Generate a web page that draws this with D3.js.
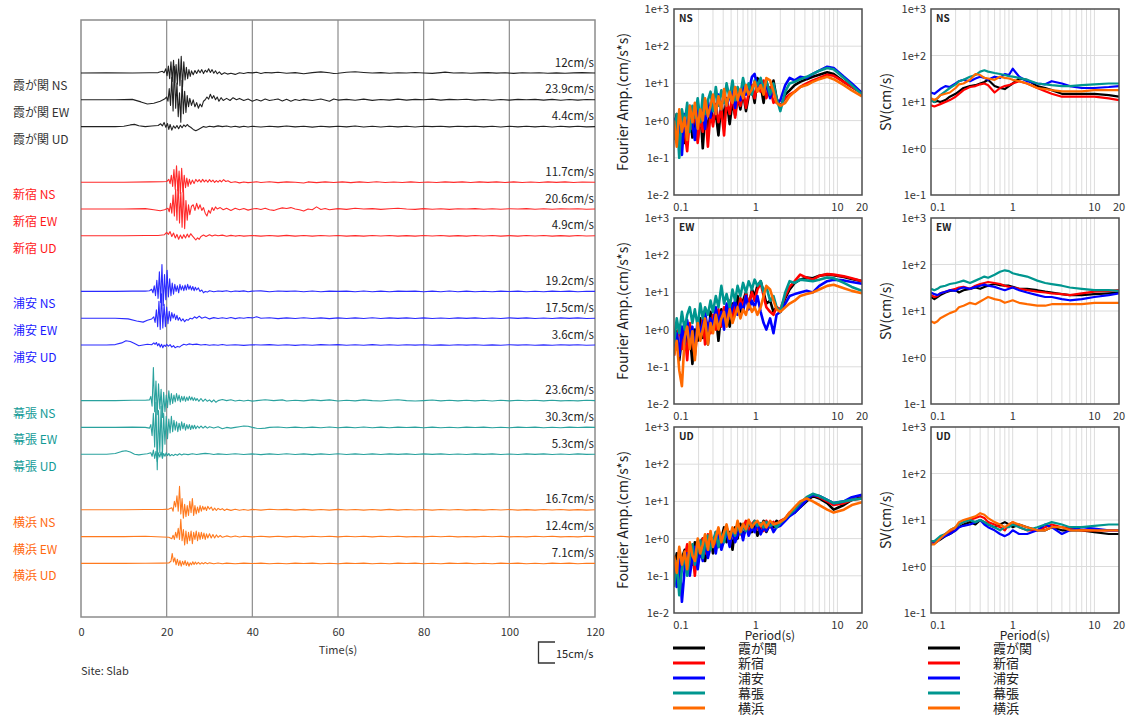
<!DOCTYPE html>
<html>
<head>
<meta charset="utf-8">
<script src="https://cdn.jsdelivr.net/npm/d3@7"></script>
<style>
  body { margin: 0; background: #fff; }
  svg { display: block; font-family: "Noto Sans CJK JP", "Liberation Sans", sans-serif; }
</style>
</head>
<body>
<div id="chart"></div>
<script>
// ---- data ----
const stations = ["霞が関", "新宿", "浦安", "幕張", "横浜"];
const components = ["NS", "EW", "UD"];
const peakVel = [12, 23.9, 4.4, 11.7, 20.6, 4.9, 19.2, 17.5, 3.6, 23.6, 30.3, 5.3, 16.7, 12.4, 7.1];
const timeTicks = [0, 20, 40, 60, 80, 100, 120];

// velocity waveforms [time(s), velocity(cm/s)]
const kasumiNS = [[0,0],[6,0.1],[12,0],[16,0.2],[18,0.3],[19,1.2],[19.4,0.2],[19.8,3],[20.1,-2],[20.4,5],[20.7,-4],[21,8],[21.3,-6],[21.6,9],[21.9,-7],[22.2,6],[22.5,-8],[22.8,10],[23.1,-9],[23.4,12],[23.7,-10],[24,8],[24.3,-5],[24.6,4],[24.9,-4],[25.2,2.5],[25.5,-2.5],[25.8,1.5],[26.2,-1.2],[26.6,1.8],[27,-0.3],[27.4,2.2],[27.8,0.2],[28.2,2.4],[28.6,-0.4],[29,2],[29.4,0.6],[29.8,3],[30.2,0.4],[30.6,2.4],[31,-0.2],[31.4,1.6],[31.8,-0.6],[32.3,0.8],[32.8,-1],[33.5,0.2],[34.2,-0.8],[35,-0.2],[36,-1],[37,0.2],[38,-0.4],[39,0.3],[40,0.1],[41,0.5],[42,-0.3],[43,0.4],[44.5,0.1],[46,0.5],[48,-0.2],[50,0.3],[52,-0.5],[54,0.3],[56,0.8],[58,0.2],[59,-0.4],[60,-0.2],[62,0.5],[64,0.9],[66,0.4],[68,0],[70,0.3],[72,-0.2],[74,0.2],[76,0],[78,0.4],[80,0],[82,-0.3],[84,0.3],[85,0.6],[87,0],[89,0.2],[91,-0.2],[93,0.1],[95,0.3],[97,-0.1],[99,0.2],[101,-0.3],[103,0.2],[105,0],[107,0.2],[109,-0.2],[111,0.1],[113,-0.2],[115,0.1],[117,0.3],[120,0]];
const kasumiEW = [[0,0],[8,0],[12,0.3],[14,-1.5],[15.5,-3],[17,-2.5],[18.5,-1],[19.5,0.5],[20,2],[20.3,-1],[20.6,8],[20.9,-4],[21.2,16],[21.5,-8],[21.8,23.9],[22.1,-6],[22.4,12],[22.7,-12],[23,5],[23.3,-16],[23.6,14],[23.9,-10],[24.2,6],[24.5,-9],[24.8,3],[25.1,-5],[25.4,1],[25.8,-4],[26.2,0],[26.6,-5],[27,-2],[27.4,-6],[27.8,-3],[28.2,-5],[28.6,-1],[29,0],[29.4,2],[29.8,0.5],[30.2,4],[30.6,1],[31,3],[31.4,0],[31.8,2],[32.2,-1],[32.7,1.5],[33.2,-0.5],[34,1],[34.8,-0.5],[35.5,1.5],[36.3,0],[37,1],[38,-0.5],[39,0.5],[40,-1],[41,0.2],[42,-0.8],[43,0.5],[44,-0.5],[45,0],[46,0.6],[47,-0.8],[48,0.4],[49,-1],[50,0.2],[51,-0.5],[52,0.3],[54,-0.5],[56,0.6],[58,-1],[59,0.6],[60,-0.2],[62,0.3],[64,-0.3],[66,0.5],[68,-0.4],[70,0.2],[72,-0.2],[74,0.5],[76,-0.2],[78,0.3],[80,0],[82,0.5],[84,-0.2],[86,0.3],[88,0],[90,0.4],[92,-0.2],[94,0.2],[96,-0.3],[98,0.2],[100,-0.2],[102,0.3],[104,0],[106,0.3],[108,-0.2],[110,0.3],[112,-0.3],[114,0.2],[116,-0.2],[118,0.2],[120,0]];
const kasumiUD = [[0,0],[8,0],[10,0.3],[11.5,1.2],[12.5,1.6],[13.5,0.6],[15,0],[16.5,0.4],[18,0.8],[18.6,2],[19,0.5],[19.4,3],[19.8,-0.5],[20.2,2.2],[20.5,-2],[20.8,1.5],[21.2,-2.5],[21.6,0.5],[22,-1.2],[22.4,0.8],[22.8,-1.5],[23.2,1],[23.6,-0.8],[24,1.2],[24.4,0],[24.8,1.5],[25.2,0.2],[25.6,-0.5],[26.2,-2],[26.8,-3],[27.4,-2],[28,-1],[28.6,0],[29.2,-0.5],[30,0.3],[31,-0.2],[32,0.5],[33,0],[34,0.4],[35,-0.3],[36,0.3],[37,-0.4],[38,0.2],[39,-0.3],[40,0.2],[42,-0.3],[44,0.3],[46,-0.2],[48,0.4],[50,-0.2],[52,0.2],[54,-0.4],[56,0.2],[58,-0.2],[60,0.3],[62,-0.2],[64,0.4],[66,-0.3],[68,0.2],[70,-0.3],[72,0.3],[74,-0.2],[76,0.2],[78,-0.3],[80,0.3],[82,0],[84,0.3],[86,-0.2],[88,0.2],[90,0],[92,0.3],[94,-0.2],[96,0.2],[98,-0.3],[100,0.2],[102,-0.2],[104,0.2],[106,-0.2],[108,0.2],[110,-0.3],[112,0.2],[114,-0.2],[116,0.2],[118,-0.2],[120,0]];

const shinjukuNS = [[0,0],[10,0],[16,0.2],[19,0.3],[20,0.5],[20.5,2],[20.8,-1],[21.1,5],[21.4,-3],[21.7,9],[22,-5],[22.3,11.7],[22.6,-6],[22.9,8],[23.2,-8],[23.5,10],[23.8,-7],[24.1,5],[24.4,-4],[24.7,3],[25,-3],[25.3,2],[25.6,-1.5],[26,1.5],[26.4,-1],[26.8,2],[27.2,0.3],[27.6,1.8],[28,0],[28.4,2],[28.8,0.2],[29.2,1.6],[29.6,0],[30,1.8],[30.4,0.3],[30.8,1.5],[31.2,-0.2],[31.6,1.2],[32,0],[32.4,1.4],[32.8,0.2],[33.3,1.8],[33.8,0.5],[34.3,1],[35,-0.2],[36,0.3],[37,-0.5],[38,0.2],[39,-0.3],[40,0],[41,0.3],[42,-0.2],[44,0.3],[46,-0.3],[48,0.2],[50,0],[52,-0.6],[53,0.2],[55,-0.3],[57,0.2],[59,-0.2],[61,0.2],[63,-0.3],[65,0.2],[67,-0.2],[69,0.3],[71,-0.2],[73,0.1],[75,-0.2],[77,0.2],[79,-0.2],[81,0.1],[83,-0.2],[85,0.2],[87,-0.1],[89,0.2],[91,-0.2],[93,0.2],[95,-0.1],[97,0.2],[99,-0.2],[101,0.2],[103,-0.2],[105,0.1],[107,-0.2],[109,0.2],[111,-0.1],[113,0.2],[115,-0.2],[117,0.1],[120,0]];
const shinjukuEW = [[0,0],[10,0],[15,0.3],[17,-0.5],[18.5,-1.2],[19.5,-0.5],[20.3,0.5],[20.6,-2],[20.9,4],[21.2,-3],[21.5,10],[21.8,-5],[22.1,14],[22.4,-8],[22.7,20.6],[23,-10],[23.3,12],[23.6,-13],[23.9,16],[24.2,-14],[24.5,6],[24.8,-8],[25.1,3],[25.4,-4],[25.8,2],[26.2,3],[26.6,-1],[27,4],[27.4,0],[27.8,3],[28.2,-1],[28.6,1],[29,-3],[29.4,-5],[29.8,-1],[30.2,-3],[30.6,1],[31,-1],[31.4,1.5],[31.8,0],[32.5,1],[33.2,-0.5],[34,0.5],[35,-1],[36,0.5],[37,-0.5],[38,0.3],[39,-0.8],[40,0],[41,0.4],[42,-0.3],[43,0.5],[44,-0.5],[45,-1],[46,0],[47,0.8],[48,0.4],[49,1],[50,0],[51,-0.5],[52,-1.5],[53,0],[54,-0.5],[55,1.5],[56,-0.3],[57,0.3],[58,-0.5],[60,0.3],[62,-0.3],[64,0.5],[66,0],[68,0.3],[70,-0.3],[72,0.2],[74,0.5],[76,0],[78,-0.3],[80,0.3],[82,-0.2],[84,0.2],[86,-0.3],[88,0.2],[90,0],[92,0.3],[94,-0.2],[96,0.2],[98,-0.2],[100,0.2],[102,0],[104,0.3],[106,-0.2],[108,0.2],[110,-0.2],[112,0.2],[114,0],[116,0.2],[118,-0.2],[120,0]];
const shinjukuUD = [[0,0],[10,0],[15,0.2],[18,0.2],[19.5,0.8],[20,2.5],[20.4,1],[20.8,3],[21.2,-0.5],[21.6,2],[22,-1.5],[22.4,1],[22.8,-2.5],[23.2,0.5],[23.6,-2],[24,0.8],[24.4,-1.5],[24.8,1.2],[25.2,-1],[25.6,1.5],[26,0],[26.4,-1.5],[26.8,-3],[27.2,-1.5],[27.6,-2.5],[28,-0.5],[28.6,0.5],[29.2,-0.5],[30,0.8],[30.6,-0.2],[31.3,0.6],[32,0],[33,0.5],[34,-0.3],[35,0.3],[36,-0.2],[37,0.2],[38,-0.2],[40,0.2],[42,-0.2],[44,0.2],[46,-0.2],[48,0.3],[50,-0.2],[52,0.2],[54,-0.2],[56,0.2],[58,-0.1],[60,0.2],[62,-0.2],[64,0.1],[66,-0.2],[68,0.2],[70,-0.1],[72,0.2],[74,-0.2],[76,0.1],[78,-0.2],[80,0.2],[82,-0.1],[84,0.2],[86,-0.2],[88,0.1],[90,-0.2],[92,0.2],[94,-0.1],[96,0.2],[98,-0.2],[100,0.1],[102,-0.2],[104,0.2],[106,-0.1],[108,0.2],[110,-0.2],[112,0.1],[114,-0.2],[116,0.2],[118,-0.1],[120,0]];

const urayasuNS = [[0,0],[8,0],[12,0.2],[15,0.2],[16,0.5],[16.5,1.5],[16.8,-1],[17.1,4],[17.4,-3],[17.7,8],[18,-5],[18.3,14],[18.6,-8],[18.9,19.2],[19.2,-10],[19.5,12],[19.8,-6],[20.1,15],[20.4,-4],[20.7,9],[21,-3],[21.3,6],[21.6,-2],[21.9,5],[22.2,0],[22.5,4],[22.8,-1],[23.1,5],[23.4,1],[23.7,4],[24,0.5],[24.3,4.5],[24.6,1],[24.9,5],[25.2,1.5],[25.5,4],[25.8,1],[26.1,3.5],[26.4,0.5],[26.7,3],[27,1],[27.4,2.5],[27.8,0],[28.2,1],[28.6,-1],[29,0],[29.5,-0.5],[30,0.5],[31,-0.3],[32,0.3],[33,0],[34,0.5],[35,-0.2],[36,0.3],[37,0],[38,0.4],[39,-0.2],[40,0.2],[42,0.4],[44,-0.3],[46,0.3],[48,0],[50,0.3],[52,-0.2],[54,0.3],[56,-0.3],[58,0.2],[60,0],[62,0.2],[64,-0.2],[66,0.3],[68,-0.2],[70,0.2],[72,-0.3],[74,0.2],[76,0],[78,0.2],[80,-0.2],[82,0.2],[84,-0.2],[86,0.3],[88,-0.2],[90,0.2],[92,-0.2],[94,0.1],[96,-0.2],[98,0.2],[100,-0.1],[102,0.2],[104,-0.2],[106,0.1],[108,-0.2],[110,0.2],[112,-0.1],[114,0.2],[116,-0.2],[118,0.1],[120,0]];
const urayasuEW = [[0,0],[8,0],[11,-0.5],[13,-2],[14.5,-2.8],[15.5,-1.5],[16.5,-0.5],[17,1],[17.3,-3],[17.6,6],[17.9,-6],[18.2,12],[18.5,-8],[18.8,17.5],[19.1,-7],[19.4,10],[19.7,-6],[20,8],[20.3,-4],[20.6,5],[20.9,-2],[21.2,4],[21.5,0],[21.8,3],[22.1,-1],[22.4,2],[22.7,-1.5],[23,0.5],[23.4,-2],[23.8,-0.5],[24.2,-2.5],[24.6,-1],[25,-1.5],[25.5,0],[26,-0.5],[26.5,1],[27,0],[27.6,1.5],[28.2,0],[29,0.8],[30,-0.5],[31,0.4],[32,-0.2],[33,0.3],[34,-0.2],[35,0.5],[36,-0.3],[37,0.3],[38,0],[39,0.5],[40,0.2],[41,1],[42,0],[44,0.3],[46,-0.3],[48,0.2],[50,-0.2],[52,0.3],[54,-0.2],[56,0.2],[58,-0.3],[60,0.2],[62,-0.2],[64,0.2],[66,-0.2],[68,0.3],[70,-0.2],[72,0.2],[74,-0.1],[76,0.2],[78,-0.2],[80,0.2],[82,-0.2],[84,0.1],[86,-0.2],[88,0.2],[90,-0.1],[92,0.2],[94,-0.2],[96,0.1],[98,-0.2],[100,0.2],[102,-0.1],[104,0.2],[106,-0.2],[108,0.1],[110,-0.2],[112,0.2],[114,-0.1],[116,0.2],[118,-0.2],[120,0]];
const urayasuUD = [[0,0],[6,0],[8,0.3],[9.5,1.5],[10.5,3],[11.5,2.5],[12.5,1],[13.5,-0.5],[14.5,0],[15.5,0.5],[16.5,0.2],[17,1.5],[17.3,0.5],[17.6,1.8],[17.9,-0.5],[18.2,1],[18.5,-1.5],[18.8,0.5],[19.1,-2],[19.4,0],[19.7,-1],[20,0.5],[20.4,-0.8],[20.8,0.3],[21.2,-1.5],[21.6,-0.5],[22,-2],[22.5,-1],[23,-1.5],[23.5,-0.3],[24,0.5],[24.6,0],[25.2,0.8],[26,0.3],[27,0.6],[28,0],[29,0.4],[30,-0.2],[31,0.2],[32,-0.2],[33,0.3],[34,-0.2],[36,0.2],[38,-0.3],[40,0.2],[42,0],[44,0.3],[46,-0.2],[48,0.2],[50,-0.3],[52,0.2],[54,-0.2],[56,0.3],[58,0],[60,0.3],[62,-0.2],[64,0.2],[66,-0.2],[68,0.3],[70,-0.2],[72,0.2],[74,-0.2],[76,0.2],[78,-0.1],[80,0.2],[82,-0.2],[84,0.1],[86,-0.2],[88,0.2],[90,-0.1],[92,0.2],[94,-0.2],[96,0.1],[98,-0.2],[100,0.2],[102,-0.1],[104,0.2],[106,-0.2],[108,0.1],[110,-0.2],[112,0.2],[114,-0.1],[116,0.2],[118,-0.2],[120,0]];

const makuhariNS = [[0,0],[8,0],[12,0.2],[15,0.3],[16,0.5],[16.3,3],[16.6,-4],[16.9,23.6],[17.2,-8],[17.5,14],[17.8,-10],[18.1,12],[18.4,-6],[18.7,8],[19,-12],[19.3,6],[19.6,-8],[19.9,4],[20.2,-5],[20.5,7],[20.8,-3],[21.1,5],[21.4,-2],[21.7,4],[22,-1],[22.3,5],[22.6,0],[22.9,4],[23.2,-1],[23.5,3],[23.8,0],[24.1,3],[24.4,-0.5],[24.7,2.5],[25,0],[25.3,3],[25.6,0.5],[25.9,2.5],[26.2,0],[26.5,2],[26.8,0],[27.1,1.5],[27.5,-0.5],[28,1.5],[28.5,-0.5],[29,1],[29.5,-0.5],[30,0.5],[30.5,-1],[31,0.5],[31.5,-1.2],[32,0],[33,0.8],[34,0],[35,0.6],[36,-0.3],[37,0.3],[38,-0.3],[39,0.3],[40,-0.4],[41,0],[43,0.6],[45,0],[47,0.5],[48,-0.3],[50,0.3],[52,-0.2],[54,0.5],[56,0],[58,0.5],[60,-0.3],[62,0.3],[64,-0.2],[66,0.5],[68,0],[70,-0.3],[72,0.2],[74,0.6],[76,0],[78,-0.3],[80,0],[82,0.4],[84,-0.2],[86,0.3],[88,-0.2],[90,0.3],[92,-0.2],[94,0.2],[96,-0.3],[98,0.2],[100,-0.2],[102,0.2],[104,-0.1],[106,0.2],[108,-0.2],[110,0.2],[112,-0.2],[114,0.1],[116,-0.2],[118,0.2],[120,0]];
const makuhariEW = [[0,0],[8,0],[12,0.2],[15,0],[16,-0.5],[16.3,2],[16.6,-6],[16.9,10],[17.2,-14],[17.5,18],[17.8,-30.3],[18.1,12],[18.4,-18],[18.7,15],[19,-20],[19.3,10],[19.6,-12],[19.9,8],[20.2,-8],[20.5,6],[20.8,-4],[21.1,8],[21.4,-3],[21.7,5],[22,-2],[22.3,4],[22.6,-3],[22.9,3],[23.2,-2],[23.5,4],[23.8,-1],[24.1,3],[24.4,-2],[24.7,2],[25,-1],[25.3,2],[25.6,-1.5],[25.9,1.5],[26.2,-1],[26.5,1.5],[26.8,-1],[27.2,1],[27.6,-0.5],[28,1],[28.5,-0.5],[29,0.8],[29.5,-0.5],[30,0.5],[31,-0.5],[32,0.5],[33,-1],[34,0],[35,-0.5],[36,0],[37,0.5],[38,1],[39,0.8],[40,0],[41,-0.6],[42,-0.8],[43,-0.5],[44,0],[46,0.3],[48,-0.3],[50,0.2],[52,-0.3],[54,0.2],[56,-0.2],[58,0.3],[60,-0.2],[62,0.2],[64,-0.2],[66,0.3],[68,-0.2],[70,0.2],[72,-0.2],[74,0.2],[76,-0.1],[78,0.2],[80,-0.2],[82,0.2],[84,-0.2],[86,0.1],[88,-0.2],[90,0.2],[92,-0.1],[94,0.2],[96,-0.2],[98,0.1],[100,-0.2],[102,0.2],[104,-0.1],[106,0.2],[108,-0.2],[110,0.1],[112,-0.2],[114,0.2],[116,-0.1],[118,0.2],[120,0]];
const makuhariUD = [[0,0],[6,0],[8,0.5],[9.5,2],[10.5,2.5],[11.5,1.5],[12.5,0],[13.5,-0.5],[14.5,0],[15.5,0.3],[16.3,1],[16.6,-1.5],[16.9,3],[17.2,-3],[17.5,2],[17.8,-5.3],[18.1,1],[18.4,-2],[18.7,1.5],[19,-3],[19.3,0.5],[19.6,-1.5],[19.9,1],[20.2,-1],[20.5,0.5],[20.8,-1.2],[21.2,-0.2],[21.6,-1],[22,0],[22.5,-0.8],[23,0.3],[23.5,-0.5],[24,0.2],[25,-0.3],[26,0.3],[27,-0.2],[28,0.2],[29,0.6],[30,0.3],[31,-0.2],[32,0.2],[34,-0.2],[36,0.3],[38,-0.2],[40,0.2],[42,-0.3],[44,0.2],[46,-0.2],[48,0.3],[50,-0.2],[52,0.2],[54,-0.3],[56,0.2],[58,-0.2],[60,0.3],[62,-0.2],[64,0.2],[66,-0.2],[68,0.2],[70,-0.2],[72,0.2],[74,-0.1],[76,0.2],[78,-0.2],[80,0.2],[82,-0.1],[84,0.2],[86,-0.2],[88,0.1],[90,-0.2],[92,0.2],[94,-0.1],[96,0.2],[98,-0.2],[100,0.1],[102,-0.2],[104,0.2],[106,-0.1],[108,0.2],[110,-0.2],[112,0.1],[114,-0.2],[116,0.2],[118,-0.1],[120,0]];

const yokohamaNS = [[0,0],[10,0],[15,0.2],[19,0.2],[20.5,0.5],[21.2,1.5],[21.5,-1],[21.8,6],[22.1,2],[22.4,10],[22.7,-1],[23,16.7],[23.3,-3],[23.6,8],[23.9,-6],[24.2,4],[24.5,-5],[24.8,3],[25.1,-4],[25.4,6],[25.7,-2],[26,8],[26.3,-4],[26.6,3],[26.9,-3],[27.2,2],[27.5,-2],[27.8,3],[28.1,-1],[28.4,2.5],[28.7,0],[29,2],[29.3,-0.5],[29.6,2.5],[30,0.5],[30.4,2],[30.8,-0.5],[31.2,1.2],[31.6,-0.5],[32,1],[32.5,0],[33,0.8],[33.5,-0.5],[34,0.5],[35,-0.4],[36,0.4],[37,-0.3],[38,0.2],[39,-0.3],[40,0.3],[42,-0.2],[44,0.4],[46,0],[48,0.3],[50,-0.2],[52,0.3],[54,-0.2],[56,0.2],[58,-0.2],[60,0.3],[62,-0.1],[64,0.2],[66,-0.2],[68,0.2],[70,-0.2],[72,0.3],[74,-0.2],[76,0.2],[78,-0.1],[80,0.2],[82,-0.2],[84,0.2],[86,-0.1],[88,0.2],[90,-0.2],[92,0.1],[94,-0.2],[96,0.2],[98,-0.1],[100,0.2],[102,-0.2],[104,0.1],[106,-0.2],[108,0.2],[110,-0.1],[112,0.2],[114,-0.2],[116,0.1],[118,-0.2],[120,0]];
const yokohamaEW = [[0,0],[10,0],[15,0.2],[19,-0.3],[20.5,-0.5],[21.2,-1.5],[21.5,1],[21.8,-2],[22.1,3],[22.4,-1],[22.7,6],[23,-2],[23.3,12.4],[23.6,-3],[23.9,5],[24.2,-6],[24.5,4],[24.8,-5],[25.1,3],[25.4,-3],[25.7,4],[26,-5],[26.3,3],[26.6,-2],[26.9,4],[27.2,-3],[27.5,3],[27.8,-2],[28.1,3],[28.4,-1.5],[28.7,2.5],[29,-2],[29.3,2],[29.6,-1],[30,2],[30.4,-1],[30.8,1.5],[31.2,-1],[31.6,1.2],[32,-0.5],[32.5,0.8],[33,-0.5],[34,0.5],[35,-0.3],[36,0.4],[37,-0.3],[38,0.2],[40,-0.2],[42,0.3],[44,-0.2],[46,0.2],[48,-0.2],[50,0.3],[52,-0.2],[54,0.2],[56,-0.1],[58,0.2],[60,-0.2],[62,0.2],[64,-0.1],[66,0.2],[68,-0.2],[70,0.2],[72,-0.1],[74,0.2],[76,-0.2],[78,0.1],[80,-0.2],[82,0.2],[84,-0.1],[86,0.2],[88,-0.2],[90,0.1],[92,-0.2],[94,0.2],[96,-0.1],[98,0.2],[100,-0.2],[102,0.1],[104,-0.2],[106,0.2],[108,-0.1],[110,0.2],[112,-0.2],[114,0.1],[116,-0.2],[118,0.2],[120,0]];
const yokohamaUD = [[0,0],[10,0],[15,0.1],[19,0.2],[20.5,0.3],[21,1.5],[21.3,7.1],[21.6,1],[21.9,4],[22.2,-1],[22.5,3],[22.8,-1.5],[23.1,2],[23.4,-2],[23.7,1.5],[24,-1],[24.3,2],[24.6,-1.5],[24.9,1],[25.2,-2],[25.5,0.5],[25.8,-1],[26.1,1.2],[26.4,-0.8],[26.7,1],[27,-0.5],[27.4,0.8],[27.8,-0.5],[28.2,0.5],[28.6,-0.3],[29,0.6],[29.5,-0.2],[30,0.4],[31,-0.2],[32,0.3],[33,-0.2],[34,0.2],[36,-0.2],[38,0.2],[40,-0.1],[42,0.2],[44,-0.2],[46,0.1],[48,-0.2],[50,0.2],[52,-0.1],[54,0.2],[56,-0.2],[58,0.1],[60,-0.2],[62,0.2],[64,-0.1],[66,0.2],[68,-0.2],[70,0.1],[72,-0.2],[74,0.2],[76,-0.1],[78,0.2],[80,-0.2],[82,0.1],[84,-0.2],[86,0.2],[88,-0.1],[90,0.2],[92,-0.2],[94,0.1],[96,-0.2],[98,0.2],[100,-0.1],[102,0.2],[104,-0.2],[106,0.1],[108,-0.2],[110,0.2],[112,-0.1],[114,0.2],[116,-0.2],[118,0.1],[120,0]];

const waveforms = [
  [kasumiNS, kasumiEW, kasumiUD],
  [shinjukuNS, shinjukuEW, shinjukuUD],
  [urayasuNS, urayasuEW, urayasuUD],
  [makuhariNS, makuhariEW, makuhariUD],
  [yokohamaNS, yokohamaEW, yokohamaUD]
];

// Fourier amplitude spectra (cm/s*s), one row per station, on fasPeriod
const fasPeriod = [0.1,0.108,0.116,0.125,0.135,0.145,0.156,0.168,0.18,0.195,0.21,0.225,0.24,0.26,0.28,0.3,0.325,0.35,0.38,0.41,0.44,0.48,0.52,0.56,0.6,0.65,0.7,0.76,0.82,0.9,0.97,1.05,1.15,1.25,1.35,1.5,1.65,1.8,2.0,2.3,2.6,3.0,3.5,4.2,5,6,7.5,9,12,15,20];
const fasNS = [
  [0.6,1.5,0.4,1.0,0.25,0.8,1.8,0.35,1.2,0.3,2.0,0.18,1.4,0.6,2.5,0.9,1.6,0.4,3.0,1.1,4.0,0.8,3.2,1.4,5.0,2.0,6.0,1.8,4.5,8,3,14,9,3,11,5,12,4,2.2,5,6.5,9,11,13,15,17,20,18,11,8,5.5],
  [0.4,1.0,0.2,1.5,0.5,0.15,1.2,0.6,2.0,0.25,1.3,0.5,2.2,0.2,1.8,0.7,2.8,0.9,2.0,0.4,3.5,1.5,5.0,1.2,4.0,2.5,6.5,2.2,5.5,9,4,10,6,12,4,8,3,3.5,2.5,4,5,6,8,10,12,14,17,16,11,8,5.5],
  [1.2,0.3,0.9,0.12,1.5,0.5,2.5,0.8,0.3,3.0,1.0,2.0,0.6,3.5,1.2,4.0,1.5,5.0,2.0,6.0,2.5,4.5,8,2.2,7,3.5,9,5,6,15,18,8,12,6,10,4,8,3,3.5,9,14,12,15,14,18,22,28,26,15,10,5.5],
  [0.3,1.5,0.1,2.0,0.8,3.0,0.5,2.5,1.2,4.0,0.9,5.0,1.5,3.5,6.0,1.8,8.0,2.5,6.5,3.0,10,4.0,12,3.5,8,5,14,6,10,5,12,9,14,7,12,5,10,4,1.8,6,10,11,13,15,18,22,26,24,14,9,5],
  [1.0,0.2,2.0,0.5,1.2,0.3,2.5,0.9,3.0,0.6,2.0,1.0,4.0,1.3,2.5,5.0,1.5,4.5,2.0,7.0,2.5,6.0,3.0,8,3.5,7,4,9,5,7,11,6,9,5,14,12,6,3,2.5,3,4.5,6,8,9,11,13,15,13,9,6.5,4.5]
];
const fasEW = [
  [0.4,0.9,0.15,0.6,1.2,0.3,0.8,0.12,1.0,0.5,2.0,0.6,1.5,0.4,3.0,1.0,2.5,0.5,3.5,1.5,4.0,1.2,5,2.5,8,3,6,10,4,12,8,15,20,10,5,6,3,4,3,7,12,18,22,25,24,28,30,29,26,23,20],
  [0.2,0.6,1.2,0.3,0.9,0.15,1.5,0.5,0.2,1.2,0.6,2.0,0.4,1.5,0.8,2.5,1.0,3.5,1.2,4.0,2.0,6,1.8,5,3,7,4,9,5,10,6,12,18,8,4,3,2.5,4,3.5,8,14,20,30,25,22,28,31,30,27,24,20],
  [0.3,0.8,0.2,1.2,0.4,1.8,0.6,1.2,0.25,2.0,0.7,1.5,3.0,0.9,2.0,1.2,4.0,1.5,3.0,1.0,5,2.0,4,6,2.5,5,3,8,3.5,6,4,8,3,1.5,1.0,2,0.8,2.5,3,5,8,9,10,11,10,15,20,22,21,19,17],
  [0.4,2.0,0.8,3.0,1.0,2.5,4.0,1.5,3.5,1.2,5.0,2.0,4.0,2.5,6.0,3.0,8.0,4.0,15,5,9,4,12,6,15,8,18,10,20,12,22,15,20,10,14,6,8,4,3,10,20,18,22,21,20,22,25,24,18,14,11],
  [0.2,0.5,0.08,0.03,0.6,1.2,0.3,0.9,0.15,1.5,0.5,1.0,2.0,0.4,1.5,0.8,2.5,1.0,2.0,3.0,1.2,3.5,1.5,2.5,4,2,3.5,2.5,5,3,4,2.5,4,8,15,12,6,3.5,3,4,5,6,8,9,10,12,15,16,13,11,9.5]
];
const fasUD = [
  [0.15,0.4,0.08,0.3,0.5,0.12,0.6,0.2,0.8,0.3,0.5,1.0,0.25,0.7,1.2,0.4,1.5,0.6,1.0,2.0,0.8,1.5,0.5,2.0,1.0,2.5,1.2,1.8,3.0,1.5,2.5,1.2,2.0,3.0,1.5,2.5,2.0,3.0,2.5,3.5,4.5,5,7,10,14,12,9,6,8,11,13],
  [0.3,0.1,0.5,0.15,0.3,0.7,0.2,0.5,0.1,0.8,0.35,1.0,0.4,1.3,0.5,1.0,0.7,1.8,0.6,1.2,2.0,0.7,1.6,1.0,2.5,1.3,2.0,3.0,1.5,2.5,3.0,1.8,2.2,1.6,3.0,2.0,2.8,2.2,3.0,3.5,5,6,8,12,15,13,10,8,9,11,12],
  [0.2,0.05,0.3,0.02,0.15,0.4,0.1,0.3,0.6,0.15,0.5,0.25,0.8,0.3,0.6,1.0,0.4,1.2,0.5,0.9,1.5,0.6,1.8,0.8,1.2,2.0,0.9,2.2,1.2,2.0,1.5,2.8,1.3,2.0,1.6,2.5,1.5,2.0,2.2,3.0,4.0,5,7,11,15,14,11,9,10,13,15],
  [0.05,0.25,0.03,0.15,0.4,0.1,0.3,0.7,0.2,0.5,0.9,0.3,0.7,1.2,0.5,0.9,1.5,0.6,1.3,0.8,2.0,1.0,1.8,1.2,2.5,1.4,2.2,1.6,2.8,2.0,3.0,2.2,2.6,2.0,2.8,2.2,2.5,2.0,2.6,3.5,4.5,6,9,13,16,14,11,9,10,11,12],
  [0.35,0.12,0.6,0.2,0.45,0.15,0.8,0.35,0.25,1.0,0.4,0.7,1.3,0.5,1.6,0.6,1.1,2.0,0.8,1.5,2.4,1.0,2.0,1.4,3.0,1.5,2.5,1.8,3.2,2.0,2.6,3.0,2.2,2.8,2.0,3.0,2.4,2.6,2.8,3.5,5,7,10,12,10,8,6,5,6,8,9.5]
];

// velocity response spectra SV (cm/s), one row per station, on svPeriod
const svPeriod = [0.1,0.11,0.12,0.13,0.15,0.17,0.2,0.22,0.25,0.3,0.35,0.4,0.45,0.5,0.6,0.7,0.8,0.9,1.0,1.2,1.5,2,2.5,3,4,5,7,10,15,20];
const svNS = [
  [11,10,10.5,10,11,13,15,17,20,22,23,25,27,30,22,20,19,22,25,32,30,22,20,18,15,15,15,15,14,13],
  [8.5,8,8.5,9,10,11,13,15,18,21,22,24,25,23,16,20,22,23,25,28,25,20,17,15,13,13,13,13,12,11],
  [16,15,17,19,22,21,25,28,30,28,32,35,33,30,35,33,40,38,52,35,28,25,24,28,25,22,20,20,21,22],
  [11,10,12,14,17,20,24,28,30,35,38,45,48,45,42,40,38,36,35,33,30,25,24,23,22,22,23,24,25,25],
  [12,11,12,14,15,16,20,24,25,30,40,38,33,32,30,35,33,32,30,28,25,20,19,18,17,17,17,18,18,18]
];
const svEW = [
  [20,18,20,22,25,27,28,25,28,30,32,30,33,35,38,36,35,35,33,30,30,28,26,25,23,22,22,23,24,25],
  [22,20,21,24,26,28,30,32,33,30,35,38,40,42,40,38,35,33,32,30,28,26,25,24,23,22,24,26,27,28],
  [25,23,22,24,26,28,27,30,32,30,33,35,37,35,33,30,28,30,32,28,25,22,20,20,18,17,18,20,22,24],
  [30,28,30,33,35,38,40,42,45,40,45,50,55,52,60,70,75,72,65,60,55,45,40,38,35,32,30,28,28,27],
  [6,5.5,6,7,8,9,10,12,13,15,14,16,18,20,18,17,15,16,17,15,14,13,13,14,14,14,14,15,15,15]
];
const svUD = [
  [3,3.2,3.5,3.8,4.5,5,6,7,8,9,8,10,9,8,7,8,9,8,7,8,7,6,6,7,6,6,6,5.5,5,5],
  [3.5,3.2,3.5,4,5,5.5,6,8,9,10,11,12,11,9,8,7,6,8,9,7,6,6,7,8,7,6.5,6,6,6,6],
  [3,3.2,3.5,4,4.5,5,6,7,7.5,8,9,10,8,7,6,5,4.5,5,6,5,5,6,8,7,5,6,7,6.5,6,6],
  [3.5,3.5,4,4.5,5,6,7,8,9,10,9,10,9,8,7,6,7,7,8,7,6,7,8,9,8,7,7,7.5,8,8],
  [3,3,3.5,4,5,6,7,9,10,11,12,14,13,11,9,8,7,8,9,8,7,6,6,7,7,6,6,6,6,6]
];

const periodTicks = [0.1, 1, 10, 20];
const fasDecades = [1e-2, 1e-1, 1e0, 1e1, 1e2, 1e3];
const svDecades = [1e-1, 1e0, 1e1, 1e2, 1e3];

// ---- styles ----
const lineColors = ["#000000", "#ff0000", "#0000ff", "#00968f", "#ff6a00"];
const traceColors = ["#222222", "#ff2b2b", "#2b2bff", "#2aa29e", "#ff7a1f"];
const labelColors = ["#333333", "#ff1a1a", "#1a1aff", "#129a96", "#ff6a10"];

const W = 1136, H = 717;
const svg = d3.select("#chart").append("svg").attr("width", W).attr("height", H);
svg.append("rect").attr("width", W).attr("height", H).attr("fill", "#fff");

// ---- left: waveforms ----
const tl = { left: 81, right: 595, top: 20, bottom: 617 };
const x = d3.scaleLinear().domain([0, 120]).range([tl.left, tl.right]);
const amp = d3.scaleLinear().domain([0, 15]).range([0, 21]); // 15 cm/s bar

const wave = svg.append("g");
wave.selectAll("line.grid").data(timeTicks.slice(1, -1)).enter().append("line")
  .attr("x1", d => x(d)).attr("x2", d => x(d))
  .attr("y1", tl.top).attr("y2", tl.bottom)
  .attr("stroke", "#8c8c8c").attr("stroke-width", 1.2);
wave.append("rect")
  .attr("x", tl.left).attr("y", tl.top)
  .attr("width", tl.right - tl.left).attr("height", tl.bottom - tl.top)
  .attr("fill", "none").attr("stroke", "#8c8c8c").attr("stroke-width", 1.5);

const xAxis = wave.append("g")
  .attr("transform", "translate(0," + (tl.bottom + 9) + ")")
  .call(d3.axisBottom(x).tickValues(timeTicks).tickSize(0).tickPadding(2));
xAxis.select(".domain").remove();
xAxis.selectAll("text").attr("font-size", 11).attr("fill", "#333")
  .attr("font-family", "'Noto Sans CJK JP', sans-serif");

wave.append("text").attr("x", x(60)).attr("y", 654).attr("text-anchor", "middle")
  .attr("font-size", 11).attr("fill", "#333").text("Time(s)");
wave.append("text").attr("x", 81).attr("y", 675)
  .attr("font-size", 11).attr("fill", "#333").text("Site:  Slab");

// scale bar
const barTop = 642;
const bar = d3.path();
bar.moveTo(555, barTop); bar.lineTo(538.5, barTop);
bar.lineTo(538.5, barTop + amp(15)); bar.lineTo(555, barTop + amp(15));
wave.append("path").attr("d", bar.toString())
  .attr("fill", "none").attr("stroke", "#333").attr("stroke-width", 1.3);
wave.append("text").attr("x", 556).attr("y", 658).attr("font-size", 11).attr("fill", "#222").text("15cm/s");

const waveLine = base => d3.line().x(d => x(d[0])).y(d => base - amp(d[1]));
stations.forEach((st, g) => {
  components.forEach((c, j) => {
    const base = 73 + g * 109.2 + j * 26.8;
    const k = g * 3 + j;
    wave.append("path").datum(waveforms[g][j])
      .attr("d", waveLine(base))
      .attr("fill", "none").attr("stroke", traceColors[g]).attr("stroke-width", 1.1)
      .attr("stroke-linejoin", "round");
    wave.append("text").attr("x", 13).attr("y", base + 17)
      .attr("font-size", 12).attr("fill", labelColors[g]).text(st + " " + c);
    wave.append("text").attr("x", 594).attr("y", base - 6.5).attr("text-anchor", "end")
      .attr("font-size", 11.5).attr("fill", "#222").text(peakVel[k] + "cm/s");
  });
});

// ---- right: spectra panels ----
const panelTops = [9, 218, 427];
const panelH = 186;
const fasX = d3.scaleLog().domain([0.1, 20]).range([674, 862]);
const svX = d3.scaleLog().domain([0.1, 20]).range([931, 1119]);
const gridPeriods = [0.2,0.3,0.4,0.5,0.6,0.7,0.8,0.9,1,2,3,4,5,6,7,8,9,10];

function drawPanel(xs, yDomain, decades, top, label, periods, series, lw, id) {
  const g = svg.append("g");
  const left = xs.range()[0], right = xs.range()[1], bottom = top + panelH;
  const ys = d3.scaleLog().domain(yDomain).range([bottom, top]);
  g.append("clipPath").attr("id", id).append("rect")
    .attr("x", left).attr("y", top).attr("width", right - left).attr("height", panelH);
  g.selectAll("line.v").data(gridPeriods).enter().append("line")
    .attr("x1", d => xs(d)).attr("x2", d => xs(d)).attr("y1", top).attr("y2", bottom)
    .attr("stroke", "#dcdcdc").attr("stroke-width", 1);
  g.selectAll("line.h").data(decades.slice(1, -1)).enter().append("line")
    .attr("x1", left).attr("x2", right).attr("y1", d => ys(d)).attr("y2", d => ys(d))
    .attr("stroke", "#dcdcdc").attr("stroke-width", 1);
  const ln = d3.line().x((d, i) => xs(periods[i])).y(d => ys(d));
  g.append("g").attr("clip-path", "url(#" + id + ")")
    .selectAll("path").data(series).enter().append("path")
    .attr("d", ln).attr("fill", "none")
    .attr("stroke", (d, i) => lineColors[i]).attr("stroke-width", lw)
    .attr("stroke-linejoin", "round");
  g.append("rect").attr("x", left).attr("y", top).attr("width", right - left).attr("height", panelH)
    .attr("fill", "none").attr("stroke", "#4d4d4d").attr("stroke-width", 1.5);
  g.append("text").attr("x", left + 5).attr("y", top + 13).attr("font-size", 10)
    .attr("font-weight", "bold").attr("fill", "#222").text(label);
  g.selectAll("text.y").data(decades).enter().append("text")
    .attr("x", left - 5).attr("y", d => ys(d) + 4).attr("text-anchor", "end")
    .attr("font-size", 11).attr("fill", "#333")
    .text(d => "1e" + (Math.log10(d) >= 0 ? "+" : "-") + Math.abs(Math.round(Math.log10(d))));
  g.selectAll("text.x").data(periodTicks).enter().append("text")
    .attr("x", d => xs(d) + (d === 0.1 ? 7 : 0)).attr("y", bottom + 16).attr("text-anchor", "middle")
    .attr("font-size", 11).attr("fill", "#333").text(d => d);
  return ys;
}

const fasSets = [fasNS, fasEW, fasUD];
const svSets = [svNS, svEW, svUD];
components.forEach((c, i) => {
  drawPanel(fasX, [1e-2, 1e3], fasDecades, panelTops[i], c, fasPeriod, fasSets[i], 2.6, "cf" + i);
  drawPanel(svX, [1e-1, 1e3], svDecades, panelTops[i], c, svPeriod, svSets[i], 2.2, "cs" + i);
  const cy = panelTops[i] + panelH / 2;
  svg.append("text").attr("transform", "translate(628," + cy + ") rotate(-90)")
    .attr("text-anchor", "middle").attr("font-size", 14).attr("fill", "#222")
    .text("Fourier Amp.(cm/s*s)");
  svg.append("text").attr("transform", "translate(891," + cy + ") rotate(-90)")
    .attr("text-anchor", "middle").attr("font-size", 14).attr("fill", "#222")
    .text("SV(cm/s)");
});

// period titles and legends
[[770, 673, 738], [1025, 928, 993]].forEach(([px, lx, tx]) => {
  svg.append("text").attr("x", px).attr("y", 640).attr("text-anchor", "middle")
    .attr("font-size", 12).attr("fill", "#222").text("Period(s)");
  const lg = svg.append("g");
  stations.forEach((st, i) => {
    const yy = 648 + i * 15;
    lg.append("line").attr("x1", lx).attr("x2", lx + 32).attr("y1", yy).attr("y2", yy)
      .attr("stroke", lineColors[i]).attr("stroke-width", 3);
    lg.append("text").attr("x", tx).attr("y", yy + 5).attr("font-size", 13)
      .attr("fill", "#222").text(st);
  });
});
</script>
</body>
</html>
